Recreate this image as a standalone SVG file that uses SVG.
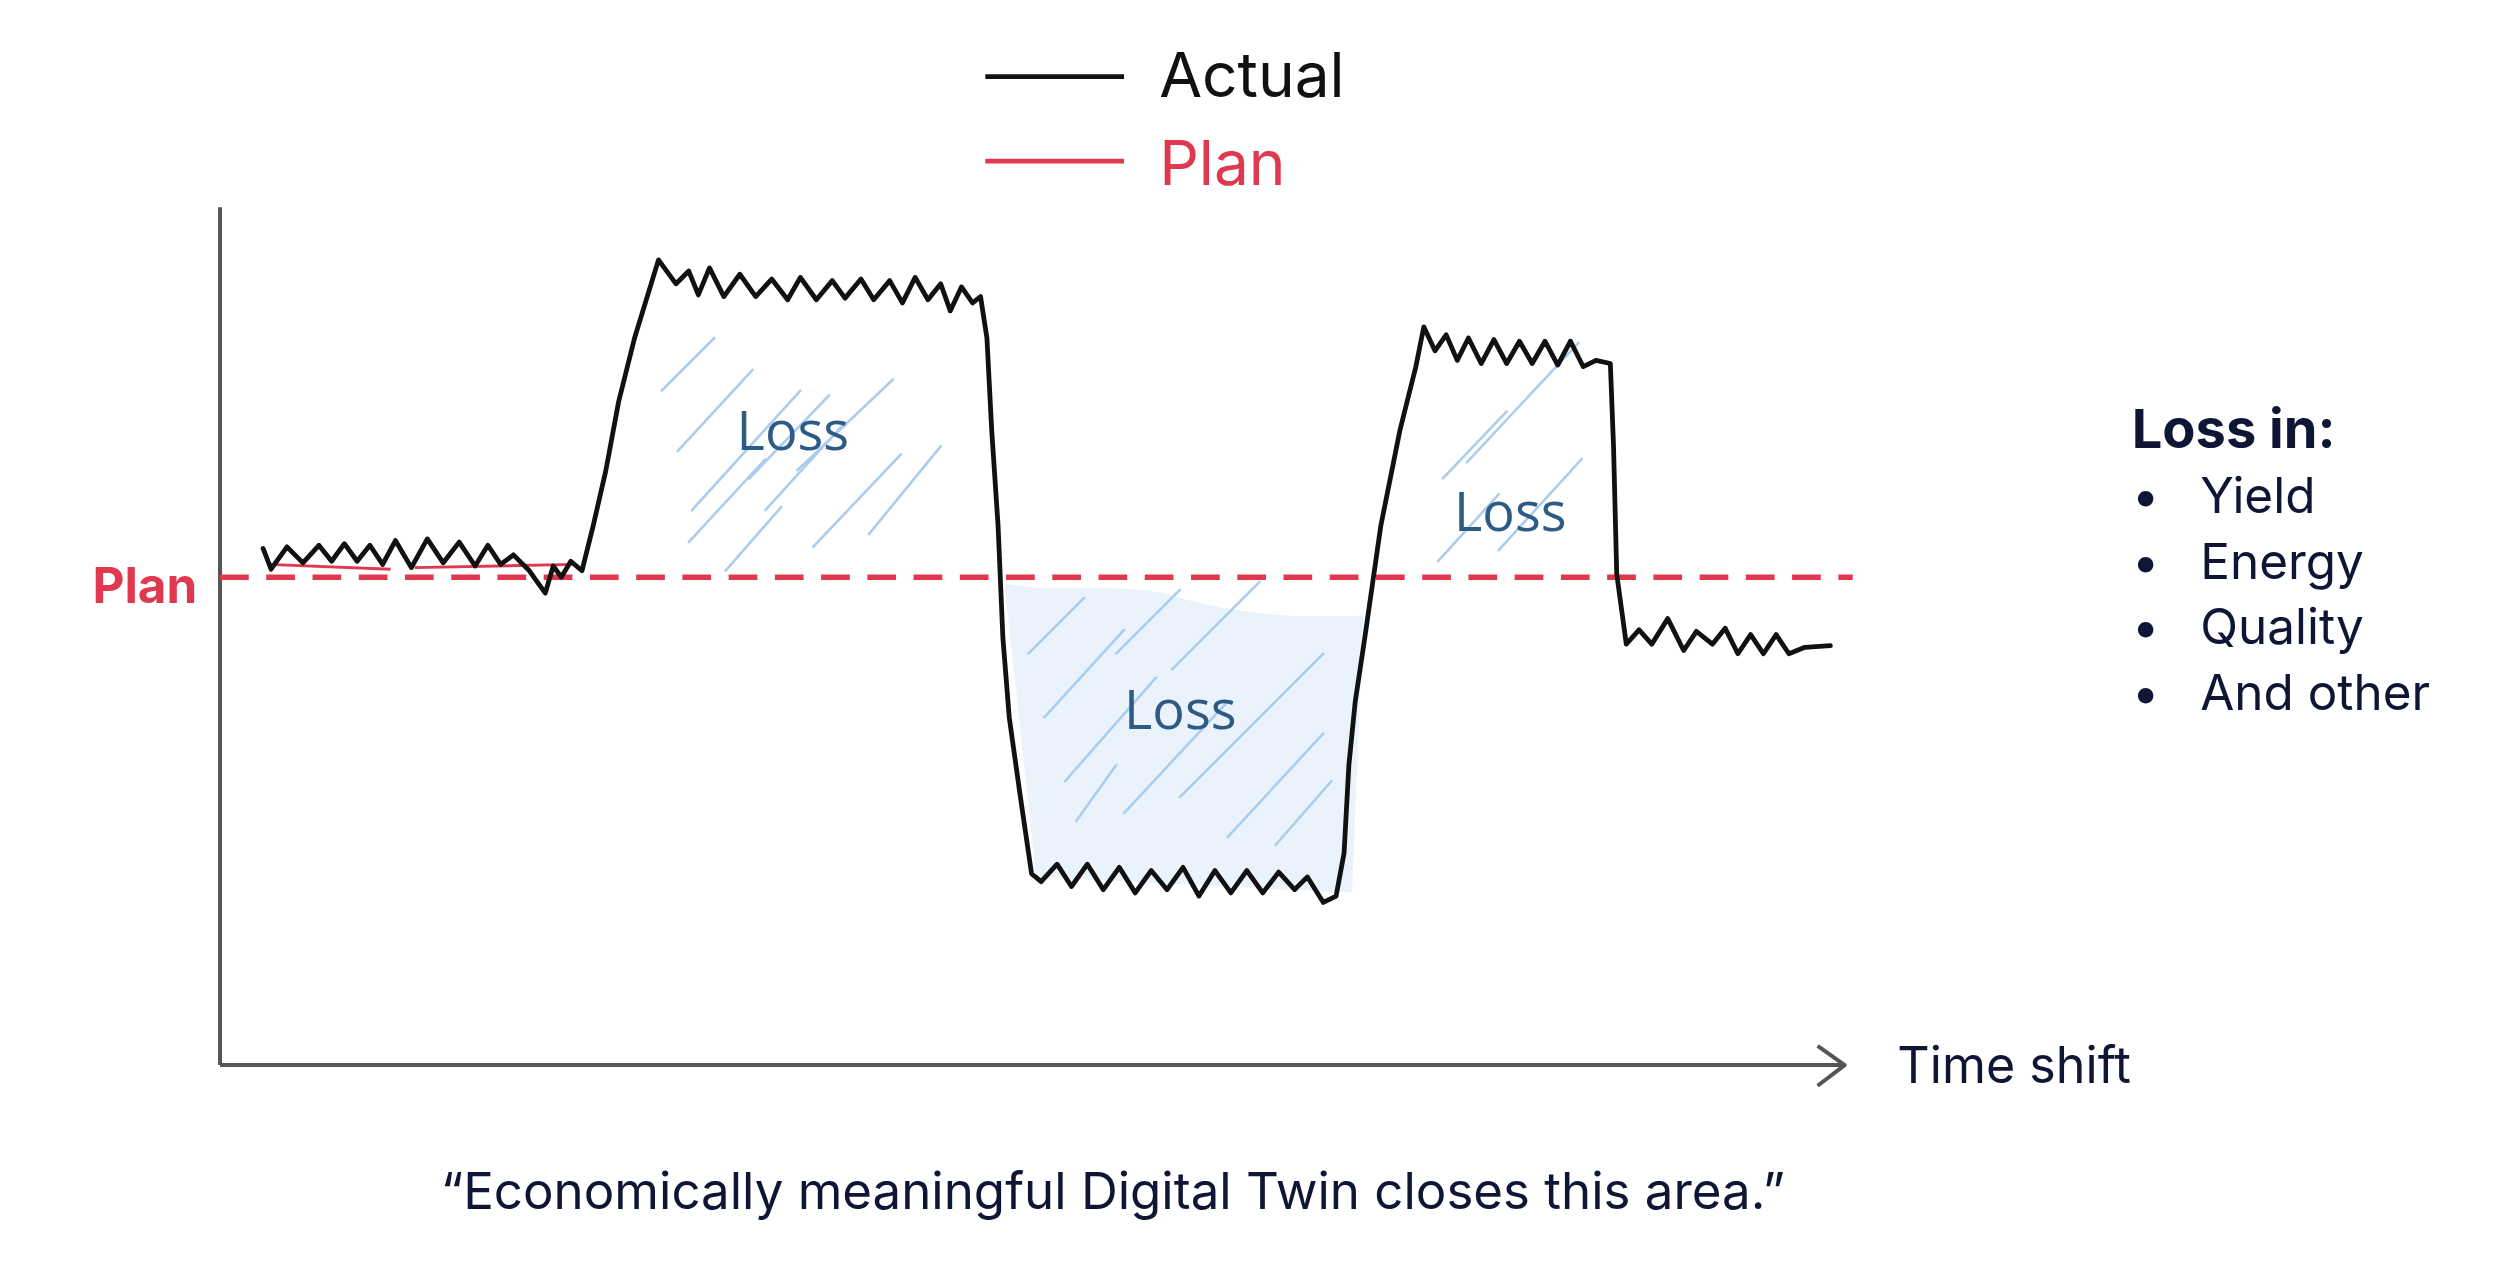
<svg xmlns="http://www.w3.org/2000/svg" width="2500" height="1279" viewBox="0 0 2500 1279">
<style>
.t{font-family:Inter,"Noto Sans","Liberation Sans",sans-serif;fill:#0f1535}
.loss{font-family:"Open Sans","Noto Sans",sans-serif;fill:#2d5b86;font-size:34px}
.h{stroke:#a9cdef;stroke-width:1.6;fill:none;stroke-linecap:round}
</style>
<rect width="2500" height="1279" fill="#fff"/>
<g transform="scale(1.5944)">
<g id="legend">
<line x1="618" y1="48" x2="705" y2="48" stroke="#111" stroke-width="3"/>
<text x="727" y="61" class="t" font-size="39" style="fill:#111">Actual</text>
<line x1="618" y1="101" x2="705" y2="101" stroke="#e0384f" stroke-width="3"/>
<text x="727" y="116" class="t" font-size="39" style="fill:#e0384f">Plan</text>
</g>
<g id="fill">
<path d="M630,366 C660,372 700,366 730,372 C770,385 810,388 855,386 L848,560 L650,550 Z" fill="#eaf3fc"/>
</g>
<g id="hatch" class="h">
<line x1="415" y1="245" x2="448" y2="212"/><line x1="425" y1="283" x2="472" y2="232"/>
<line x1="434" y1="320" x2="502" y2="245"/><line x1="470" y1="300" x2="520" y2="248"/>
<line x1="500" y1="295" x2="560" y2="238"/><line x1="432" y1="340" x2="480" y2="288"/>
<line x1="480" y1="320" x2="530" y2="265"/><line x1="510" y1="343" x2="565" y2="285"/>
<line x1="545" y1="335" x2="590" y2="280"/><line x1="455" y1="358" x2="490" y2="318"/>
<line x1="645" y1="410" x2="680" y2="375"/><line x1="655" y1="450" x2="705" y2="395"/>
<line x1="668" y1="490" x2="725" y2="425"/><line x1="700" y1="410" x2="740" y2="370"/>
<line x1="735" y1="420" x2="790" y2="365"/><line x1="675" y1="515" x2="700" y2="480"/>
<line x1="705" y1="510" x2="770" y2="440"/><line x1="740" y1="500" x2="830" y2="410"/>
<line x1="770" y1="525" x2="830" y2="460"/><line x1="800" y1="530" x2="835" y2="490"/>
<line x1="905" y1="300" x2="945" y2="258"/><line x1="920" y1="290" x2="990" y2="215"/>
<line x1="902" y1="352" x2="940" y2="310"/><line x1="940" y1="345" x2="992" y2="288"/>
</g>
<g id="axes" stroke="#555" stroke-width="2.5" fill="none">
<line x1="138" y1="130" x2="138" y2="668"/>
<line x1="138" y1="668" x2="1157" y2="668"/>
<polyline points="1140,656 1157,668 1140,681" stroke-linejoin="round"/>
</g>
<g id="plan-line">
<line x1="138" y1="362" x2="1162" y2="362" stroke="#e0384f" stroke-width="3.5" stroke-dasharray="18,11"/>
<path d="M168,354 L245,357 M260,356 L360,354" stroke="#e0384f" stroke-width="1.8" fill="none"/>
</g>
<g id="actual">
<path d="M165,344 L170,357 L180,343 L190,353 L200,342 L208,352 L216,341 L224,352 L232,342 L240,354 L248,339 L258,356 L268,338 L278,353 L288,340 L298,355 L306,342 L314,354 L322,348 L332,358 L342,372 L347,355 L352,362 L358,352 L365,358 L372,330 L380,295 L388,252 L398,212 L413,163 L424,178 L432,170 L438,185 L445,168 L454,186 L464,172 L474,186 L484,175 L494,188 L502,174 L512,188 L522,176 L530,187 L540,175 L548,188 L558,176 L566,190 L574,174 L582,188 L590,178 L596,195 L603,180 L610,190 L615,186 L619,212 L622,270 L626,330 L629,400 L633,450 L640,500 L647,548 L653,553 L663,542 L672,556 L682,542 L692,558 L702,544 L712,560 L722,546 L732,558 L742,544 L752,562 L762,546 L772,560 L782,546 L792,560 L802,547 L812,558 L820,550 L830,566 L838,562 L843,535 L846,480 L850,440 L856,400 L866,330 L878,270 L888,230 L893,205 L900,220 L907,210 L914,226 L921,212 L929,228 L937,213 L945,228 L953,214 L961,228 L969,214 L977,229 L985,214 L993,230 L1001,226 L1010,228 L1012,280 L1014,360 L1020,404 L1028,395 L1036,404 L1046,388 L1056,408 L1064,396 L1074,404 L1082,394 L1090,410 L1098,398 L1106,410 L1114,398 L1122,410 L1132,406 L1148,405" fill="none" stroke="#111" stroke-width="3" stroke-linejoin="round" stroke-linecap="round"/>
</g>
<g id="labels">
<text x="58" y="378" class="t" font-size="31" font-weight="700" style="fill:#e0384f">Plan</text>
<text x="462" y="282" class="loss">Loss</text>
<text x="705" y="457" class="loss">Loss</text>
<text x="912" y="333" class="loss">Loss</text>
<text x="1190" y="679" class="t" font-size="31.5">Time shift</text>
<text x="698" y="758" class="t" font-size="32" text-anchor="middle">“Economically meaningful Digital Twin closes this area.”</text>
</g>
<g id="loss-list" class="t">
<text x="1337" y="281" font-size="34" font-weight="700">Loss in:</text>
<g font-size="31">
<text x="1337" y="322">•</text><text x="1380" y="322">Yield</text>
<text x="1337" y="363">•</text><text x="1380" y="363">Energy</text>
<text x="1337" y="404">•</text><text x="1380" y="404">Quality</text>
<text x="1337" y="445">•</text><text x="1380" y="445">And other</text>
</g>
</g>
</g>
</svg>
